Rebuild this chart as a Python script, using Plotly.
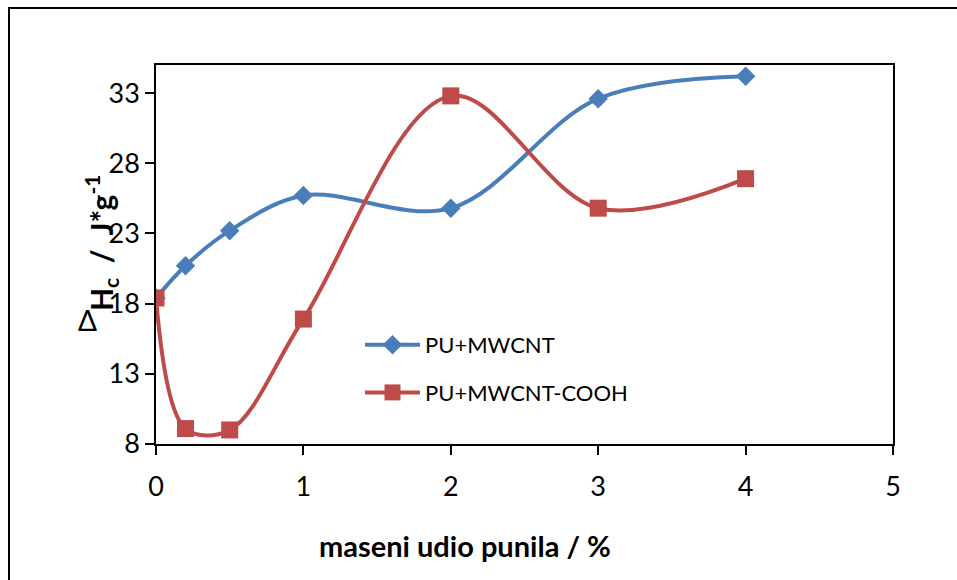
import plotly.graph_objects as go

# maseni udio punila (%)
udio = [0, 0.2, 0.5, 1, 2, 3, 4]
# Delta H_c (J/g)
pu_mwcnt = [18.4, 20.7, 23.2, 25.7, 24.8, 32.6, 34.2]
pu_mwcnt_cooh = [18.4, 9.1, 9.0, 16.9, 32.8, 24.8, 26.9]

W, H = 957, 580
L, R, T, B = 156, 64, 65, 136
pw, ph = W - L - R, H - T - B


def px_x(x):
    return (x - L) / pw


def px_y(y):
    return (H - B - y) / ph


FONT = 'Lato, Open Sans, sans-serif'

fig = go.Figure()
fig.add_trace(go.Scatter(
    x=udio, y=pu_mwcnt, name='PU+MWCNT', mode='lines+markers',
    line=dict(color='#4A7EBB', width=4, shape='spline', smoothing=1.0),
    marker=dict(symbol='diamond', size=15, color='#4A7EBB'),
    legendgroup='a'
))
fig.add_trace(go.Scatter(
    x=udio, y=pu_mwcnt_cooh, name='PU+MWCNT-COOH', mode='lines+markers',
    line=dict(color='#BE4B48', width=4, shape='spline', smoothing=1.0),
    marker=dict(symbol='square', size=17, color='#BE4B48'),
    legendgroup='b'
))

axis_common = dict(
    showgrid=False, zeroline=False, showline=True, mirror=True,
    linecolor='black', linewidth=1.5, ticks='outside', ticklen=9,
    tickcolor='black', tickwidth=1.5,
    tickfont=dict(family=FONT, size=27, color='black')
)
fig.update_xaxes(range=[0, 5], tickvals=[0, 1, 2, 3, 4, 5],
                 ticklabelstandoff=9, **axis_common)
fig.update_yaxes(range=[8, 35], tickvals=[8, 13, 18, 23, 28, 33],
                 ticklabelstandoff=0, **axis_common)

# outer chart border
fig.add_shape(type='rect', xref='paper', yref='paper',
              x0=px_x(9), x1=px_x(1100), y0=px_y(700), y1=px_y(8),
              line=dict(color='black', width=2), layer='below')

fig.add_annotation(
    text='<b>maseni udio punila / %</b>', xref='paper', yref='paper',
    x=px_x(465), y=px_y(545), xanchor='center', yanchor='middle',
    showarrow=False, font=dict(family=FONT, size=29, color='black')
)
fig.add_annotation(
    text='<b>H<sub>c</sub>&nbsp; /&nbsp; J*g<sup>-1</sup></b>', textangle=-90,
    xref='paper', yref='paper', x=px_x(101), y=px_y(243),
    xanchor='center', yanchor='middle', showarrow=False,
    font=dict(family=FONT, size=30, color='black')
)
fig.add_annotation(
    text='Δ', xref='paper', yref='paper', x=px_x(87), y=px_y(320),
    xanchor='center', yanchor='middle',
    showarrow=False, font=dict(family=FONT, size=28, color='black')
)

fig.update_layout(
    width=W, height=H,
    margin=dict(l=L, r=R, t=T, b=B),
    plot_bgcolor='white', paper_bgcolor='white',
    legend=dict(x=px_x(360), y=px_y(324), xanchor='left', yanchor='top',
                bgcolor='rgba(0,0,0,0)', tracegroupgap=16, itemwidth=55,
                font=dict(family=FONT, size=22, color='black')),
    showlegend=True
)

fig.write_html('out.html', config={'displayModeBar': False},
               post_script="document.body.style.margin='0px';")
